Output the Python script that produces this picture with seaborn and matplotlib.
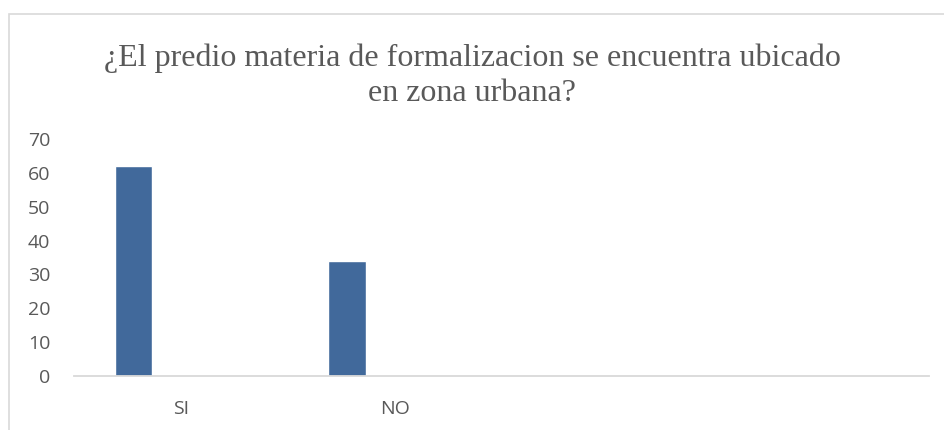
import numpy as np
import pandas as pd
import matplotlib.pyplot as plt
import seaborn as sns
from matplotlib.patches import Rectangle

# Data (Excel-style template: 4 categories x 3 series, only series 1 filled)
categories = ["SI", "NO", " ", "  "]
series_names = ["Serie 1", "Serie 2", "Serie 3"]
serie1 = [62, 34, np.nan, np.nan]
serie2 = [np.nan, np.nan, np.nan, np.nan]
serie3 = [np.nan, np.nan, np.nan, np.nan]
y_ticks = [0, 10, 20, 30, 40, 50, 60, 70]
title = "¿El predio materia de formalizacion se encuentra ubicado\nen zona urbana?"

df = pd.DataFrame({
    "categoria": categories * 3,
    "serie": [s for s in series_names for _ in categories],
    "valor": serie1 + serie2 + serie3,
})

sns.set_style("white")
plt.rcParams["font.family"] = ["Open Sans", "DejaVu Sans"]

bar_color = "#41699b"
text_color = "#595959"

fig = plt.figure(figsize=(9.45, 4.3), dpi=100)
ax = fig.add_axes([0.0783, 0.1256, 0.905, 0.551])

sns.barplot(data=df, x="categoria", y="valor", hue="serie",
            order=categories, hue_order=series_names,
            palette=[bar_color] * 3, width=0.666, gap=0.21,
            legend=False, ax=ax, errorbar=None, saturation=1)

ax.set_ylim(0, 70)
ax.set_xlim(-0.5, len(categories) - 0.5)
ax.set_yticks(y_ticks)
ax.set_xlabel("")
ax.set_ylabel("")
for side in ["top", "right", "left"]:
    ax.spines[side].set_visible(False)
ax.spines["bottom"].set_color("#d9d9d9")
ax.spines["bottom"].set_linewidth(1.3)
ax.tick_params(axis="y", length=0, pad=17, labelsize=14, labelcolor=text_color)
ax.tick_params(axis="x", length=0, pad=17, labelsize=14, labelcolor=text_color)

fig.text(0.5, 0.824, title, ha="center", va="center", fontsize=23,
         family=["Liberation Serif", "DejaVu Serif"], color=text_color,
         linespacing=1.24)

# chart frame (runs off the right and bottom edges like the reference crop)
fig.add_artist(Rectangle((0.010, -0.1), 1.2, 0.9686 + 0.1, transform=fig.transFigure,
                         fill=False, edgecolor="#d9d9d9", linewidth=1.2))

fig.savefig("out.png", dpi=100)
